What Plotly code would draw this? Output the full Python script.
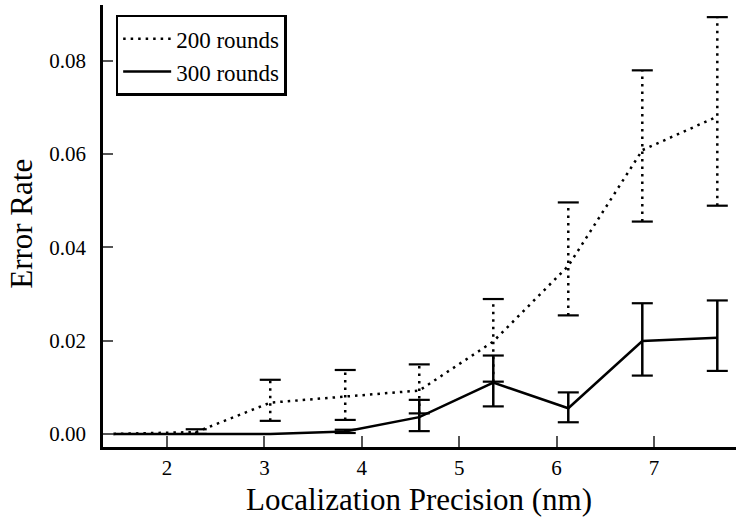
import plotly.graph_objects as go

# ---- data ----
precision = [1.45, 2.30, 3.06, 3.83, 4.59, 5.35, 6.12, 6.88, 7.65]

rate_200 = [0.0000, 0.0004, 0.0067, 0.0080, 0.0093, 0.0198, 0.0360, 0.0608, 0.0680]
low_200 = [None, 0.0000, 0.0028, 0.0030, 0.0044, 0.0112, 0.0254, 0.0455, 0.0489]
high_200 = [None, 0.0010, 0.0116, 0.0137, 0.0149, 0.0289, 0.0496, 0.0779, 0.0893]

rate_300 = [0.0000, 0.0000, 0.0000, 0.0005, 0.0036, 0.0110, 0.0055, 0.0199, 0.0206]
low_300 = [None, None, None, 0.0002, 0.0006, 0.0059, 0.0025, 0.0125, 0.0135]
high_300 = [None, None, None, 0.0009, 0.0073, 0.0168, 0.0089, 0.0280, 0.0286]

x_ticks = [2, 3, 4, 5, 6, 7]
y_ticks = [0.00, 0.02, 0.04, 0.06, 0.08]

x_title = "Localization Precision (nm)"
y_title = "Error Rate"

FONT = "Liberation Serif"
DOT = "2.5px,5px"
LW = 2.5

fig = go.Figure()


def stems(xs, lo, hi):
    sx, sy = [], []
    for x, a, b in zip(xs, lo, hi):
        if a is None:
            continue
        sx += [x, x, None]
        sy += [a, b, None]
    return sx, sy


def caps(xs, lo, hi):
    cx, cy = [], []
    for x, a, b in zip(xs, lo, hi):
        if a is None:
            continue
        cx += [x, x]
        cy += [a, b]
    return cx, cy


# 200 rounds error bars (dotted stems + solid caps)
sx, sy = stems(precision, low_200, high_200)
fig.add_trace(go.Scatter(x=sx, y=sy, mode="lines", showlegend=False,
                         line=dict(color="black", width=LW, dash=DOT),
                         hoverinfo="skip"))
cx, cy = caps(precision, low_200, high_200)
fig.add_trace(go.Scatter(x=cx, y=cy, mode="markers", showlegend=False,
                         marker=dict(symbol="line-ew", size=15,
                                     line=dict(color="black", width=2.2)),
                         hoverinfo="skip"))

# 300 rounds error bars (solid)
sx, sy = stems(precision, low_300, high_300)
fig.add_trace(go.Scatter(x=sx, y=sy, mode="lines", showlegend=False,
                         line=dict(color="black", width=LW),
                         hoverinfo="skip"))
cx, cy = caps(precision, low_300, high_300)
fig.add_trace(go.Scatter(x=cx, y=cy, mode="markers", showlegend=False,
                         marker=dict(symbol="line-ew", size=15,
                                     line=dict(color="black", width=2.2)),
                         hoverinfo="skip"))

# main lines
fig.add_trace(go.Scatter(x=precision, y=rate_200, mode="lines", name="200 rounds",
                         line=dict(color="black", width=LW, dash=DOT)))
fig.add_trace(go.Scatter(x=precision, y=rate_300, mode="lines", name="300 rounds",
                         line=dict(color="black", width=LW)))

fig.update_layout(
    width=736, height=518,
    margin=dict(l=103, r=0, t=5, b=71, autoexpand=False),
    paper_bgcolor="white", plot_bgcolor="white",
    font=dict(family=FONT, size=21, color="black"),
    showlegend=True,
    legend=dict(x=0.02, y=0.978, xanchor="left", yanchor="top",
                bordercolor="black", borderwidth=2.5, bgcolor="white",
                font=dict(family=FONT, size=23),
                tracegroupgap=0, itemwidth=48),
    xaxis=dict(range=[1.343, 7.842], tickvals=x_ticks, automargin=False,
               showgrid=False, zeroline=False,
               showline=True, linecolor="black", linewidth=2.5,
               ticks="inside", ticklen=11, tickwidth=1.5, tickcolor="#555",
               ticklabelstandoff=0),
    yaxis=dict(range=[-0.0028, 0.0919], tickvals=y_ticks, tickformat=".2f",
               automargin=False,
               showgrid=False, zeroline=False,
               showline=True, linecolor="black", linewidth=2.5,
               ticks="inside", ticklen=10, tickwidth=1.5, tickcolor="#555",
               ticklabelstandoff=10),
    annotations=[
        dict(text=x_title, xref="paper", yref="paper", x=0.499, y=0,
             xanchor="center", yanchor="middle", yshift=-52, showarrow=False,
             font=dict(family=FONT, size=31)),
        dict(text=y_title, xref="paper", yref="paper", x=0, y=0.505,
             xanchor="center", yanchor="middle", xshift=-81, textangle=-90,
             showarrow=False, font=dict(family=FONT, size=31)),
    ],
)

fig.write_html("out.html", config={"displayModeBar": False},
               post_script="document.body.style.margin='0';document.body.style.padding='0';")
